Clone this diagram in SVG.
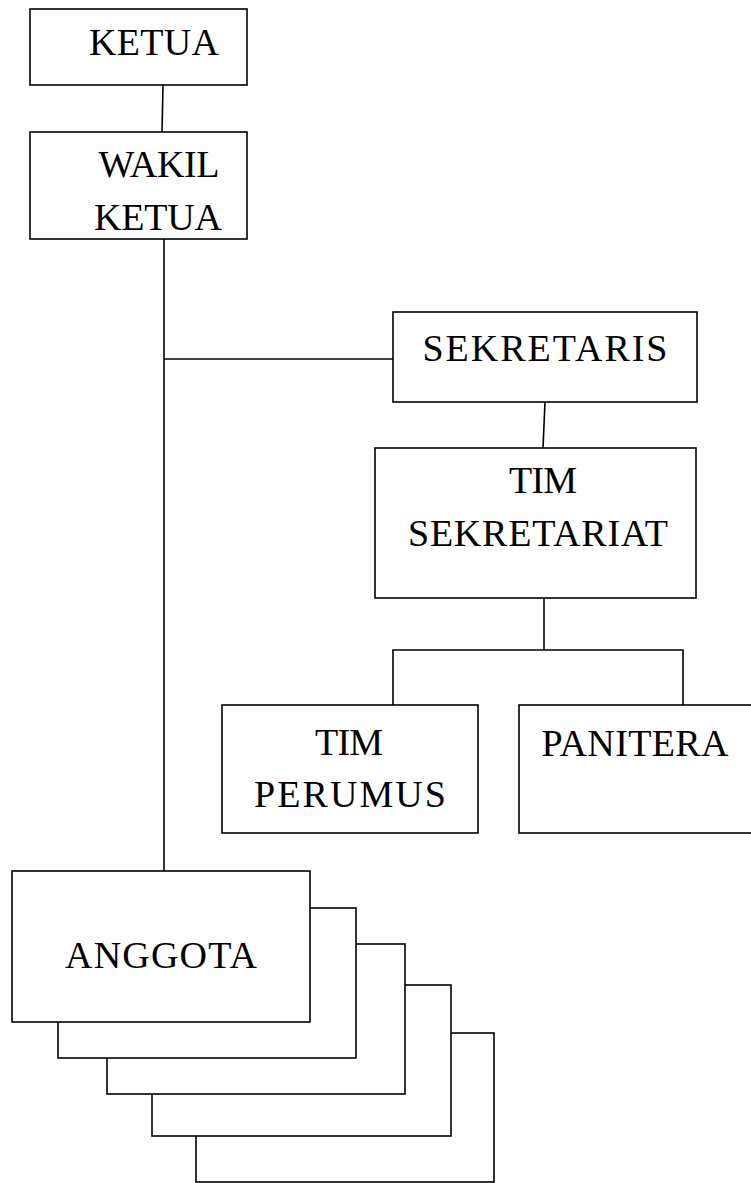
<svg xmlns="http://www.w3.org/2000/svg" width="751" height="1183" viewBox="0 0 751 1183">
<style>
.box{fill:#fff;stroke:#000;stroke-width:1.6}
.ln{fill:none;stroke:#000;stroke-width:1.6}
.t{font-family:"Liberation Serif","DejaVu Serif",serif;font-size:38px;fill:#000;text-anchor:middle}
</style>
<rect width="751" height="1183" fill="#fff"/>
<g id="connectors">
<line class="ln" x1="163" y1="85" x2="162" y2="132"/>
<line class="ln" x1="164" y1="239" x2="164" y2="871"/>
<line class="ln" x1="164" y1="359" x2="393" y2="359"/>
<line class="ln" x1="545" y1="402" x2="543" y2="448"/>
<line class="ln" x1="544" y1="598" x2="544" y2="650"/>
<polyline class="ln" points="393,705 393,650 683,650 683,705"/>
</g>
<g id="ketua"><rect class="box" x="30" y="9" width="217" height="76"/><text class="t" x="154" y="55" textLength="130">KETUA</text></g>
<g id="wakil-ketua"><rect class="box" x="30" y="132" width="217" height="107"/><text class="t" x="159" y="177" textLength="121">WAKIL</text><text class="t" x="158" y="230" textLength="128">KETUA</text></g>
<g id="sekretaris"><rect class="box" x="393" y="312" width="304" height="90"/><text class="t" x="545" y="361" textLength="245">SEKRETARIS</text></g>
<g id="tim-sekretariat"><rect class="box" x="375" y="448" width="321" height="150"/><text class="t" x="543" y="493" textLength="68">TIM</text><text class="t" x="538" y="546" textLength="260">SEKRETARIAT</text></g>
<g id="tim-perumus"><rect class="box" x="222" y="705" width="256" height="128"/><text class="t" x="349" y="755" textLength="68">TIM</text><text class="t" x="350" y="807" textLength="192">PERUMUS</text></g>
<g id="panitera"><rect class="box" x="519" y="705" width="240" height="128"/><text class="t" x="635" y="756" textLength="187">PANITERA</text></g>
<g id="anggota">
<rect class="box" x="196" y="1033" width="298" height="149"/>
<rect class="box" x="152" y="985" width="299" height="151"/>
<rect class="box" x="107" y="944" width="298" height="150"/>
<rect class="box" x="58" y="908" width="298" height="150"/>
<rect class="box" x="12" y="871" width="298" height="151"/>
<text class="t" x="161" y="968" textLength="192">ANGGOTA</text>
</g>
</svg>
